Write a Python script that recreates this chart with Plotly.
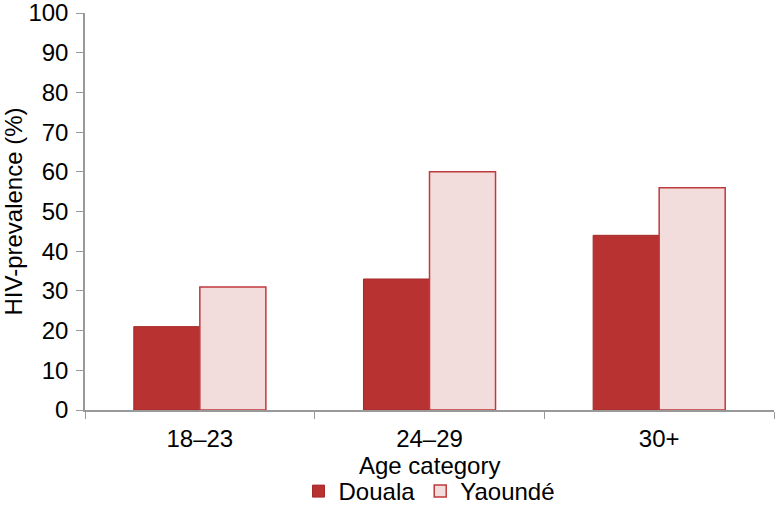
import plotly.graph_objects as go

categories = ["18–23", "24–29", "30+"]
douala = [21, 33, 44]
yaounde = [31, 60, 56]
y_ticks = list(range(0, 101, 10))
x_title = "Age category"
y_title = "HIV-prevalence (%)"

fig = go.Figure()
fig.add_trace(go.Bar(
    x=categories, y=douala, name="Douala",
    marker=dict(color="#b93232", line=dict(color="#a52a2a", width=1)),
))
fig.add_trace(go.Bar(
    x=categories, y=yaounde, name="Yaoundé",
    marker=dict(color="#f3dcdc", line=dict(color="#c0393b", width=1.5)),
))

fig.update_layout(
    width=776, height=512,
    margin=dict(l=85, r=2, t=13, b=102),
    plot_bgcolor="white", paper_bgcolor="white",
    font=dict(family="Liberation Sans, Arial, sans-serif", size=24, color="black"),
    barmode="group", bargap=0.425, bargroupgap=0.0,
    showlegend=True,
    legend=dict(orientation="h", x=0.5, xanchor="center",
                yref="container", y=0.04, yanchor="middle",
                font=dict(size=24), itemwidth=30, traceorder="normal"),
    xaxis=dict(
        showline=True, linecolor="#999999", linewidth=1.5,
        ticks="outside", tickson="boundaries", ticklen=7, tickcolor="#999999",
        ticklabelstandoff=6,
        showgrid=False, automargin=False,
    ),
    yaxis=dict(
        title=dict(text=y_title, standoff=8, font=dict(size=24)),
        range=[0, 100], tickvals=y_ticks,
        showline=True, linecolor="#999999", linewidth=1.5,
        ticks="outside", ticklen=7, tickcolor="#999999",
        ticklabelstandoff=3, ticklabeloverflow="allow",
        showgrid=False, zeroline=False, automargin=False,
    ),
    annotations=[dict(text=x_title, xref="paper", yref="paper", x=0.5, y=-0.141,
                      xanchor="center", yanchor="middle", showarrow=False,
                      font=dict(size=24))],
)

fig.write_html("out.html", config={"displayModeBar": False},
               post_script="document.body.style.margin='0';")
